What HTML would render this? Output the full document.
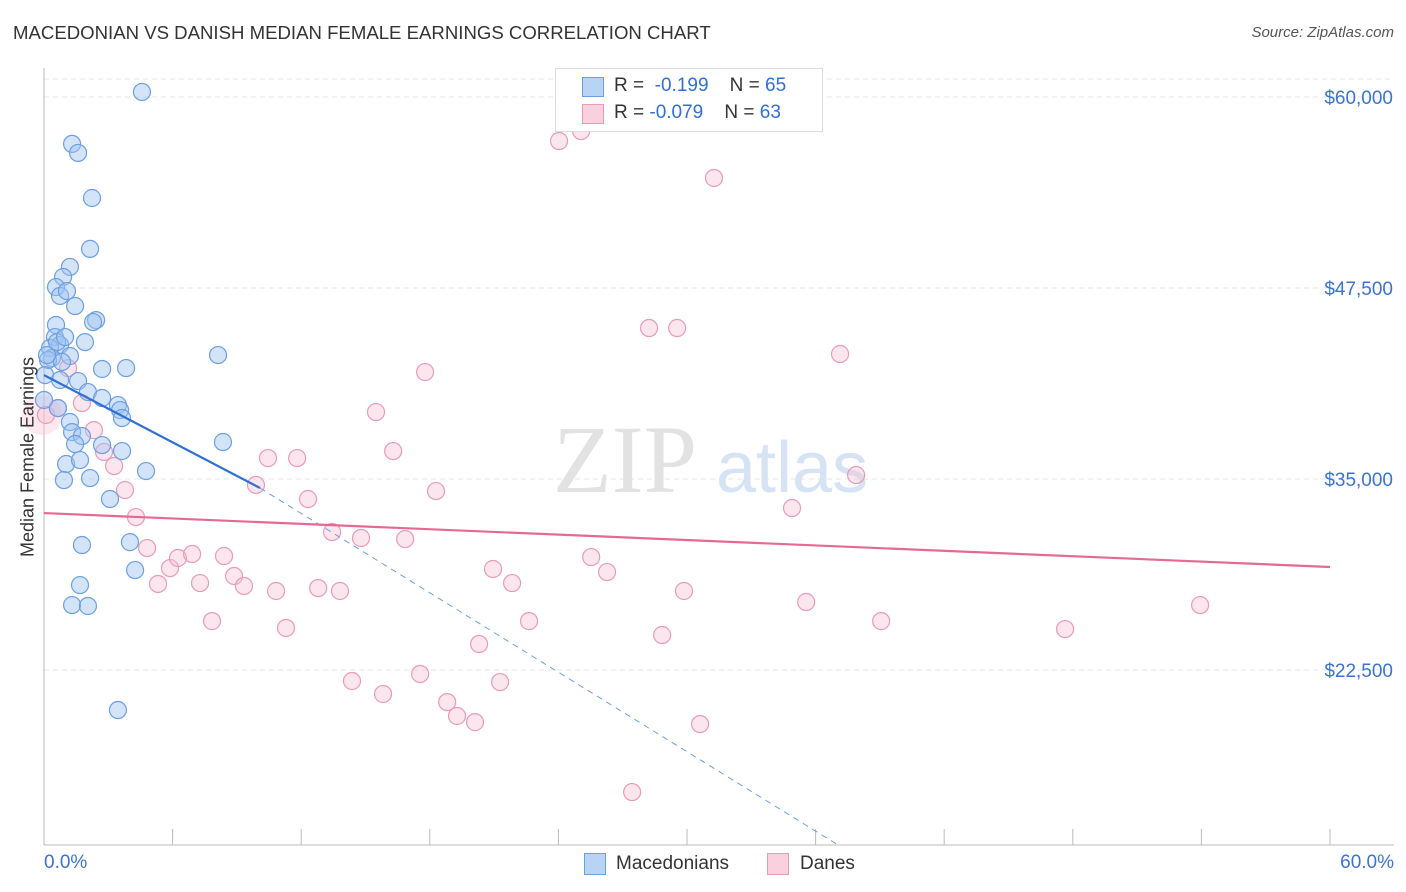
<!DOCTYPE html>
<html><head><meta charset="utf-8"><style>
body{margin:0;background:#fff;font-family:"Liberation Sans",sans-serif;}
#wrap{position:relative;width:1406px;height:892px;overflow:hidden;}
.t{position:absolute;white-space:nowrap;}
</style></head><body><div id="wrap">
<div class="t" style="left:13px;top:22px;font-size:18.6px;color:#333;">MACEDONIAN VS DANISH MEDIAN FEMALE EARNINGS CORRELATION CHART</div>
<div class="t" style="right:12px;top:24px;font-size:15px;color:#555;font-style:italic;">Source: ZipAtlas.com</div>
<svg id="svg" width="1406" height="892" style="position:absolute;left:0;top:0"></svg>
</div>
<script>
const yTicks=[60000,47500,35000,22500];
const yTickLabels=["$60,000","$47,500","$35,000","$22,500"];
const blueX=[4.57,1.31,1.59,2.24,2.15,1.21,0.89,0.56,0.75,1.07,1.45,0.56,0.51,2.43,2.29,1.91,0.75,0.28,1.21,0.37,0.19,0.84,2.71,3.83,8.12,0.05,1.59,2.05,2.71,3.45,0.65,1.21,3.55,3.64,1.31,1.77,1.45,2.71,3.64,8.35,1.03,1.68,4.76,0.93,2.15,3.08,4.01,1.77,4.25,1.68,1.31,2.05,3.45,0.14,0.61,0.98,0.75,0];
const blueY=[60330,56930,56340,53390,50060,48880,48220,47560,46980,47300,46320,45080,44290,45400,45270,43960,43770,43570,43050,42920,42790,42660,42200,42260,43110,41800,41410,40690,40300,39840,39640,38730,39510,38990,38070,37810,37290,37220,36830,37420,35980,36240,35520,34930,35060,33690,30870,30680,29040,28060,26750,26690,19880,43110,43960,44290,41480,40170];
const pinkX=[0.09,0.65,1.12,1.77,2.33,2.80,3.27,3.78,4.29,4.81,5.32,5.88,6.25,6.91,7.28,7.84,8.40,8.87,9.33,9.89,10.45,10.83,11.29,11.81,12.32,12.79,13.44,13.81,14.37,14.79,15.49,15.82,16.29,16.85,17.55,17.78,18.29,18.81,19.27,20.11,20.30,20.95,21.28,21.84,22.63,24.03,25.06,25.53,26.27,28.23,28.84,29.54,29.86,30.61,31.26,34.90,35.56,37.14,37.89,39.06,47.64,53.94,27.44];
const pinkY=[39190,39640,42260,39970,38200,36770,35850,34280,32510,30480,28130,29170,29830,30090,28190,25700,29960,28650,28000,34610,36370,27670,25250,36370,33690,27860,31530,27670,21780,31140,39380,20930,36830,31070,22240,42000,34210,20400,19490,19090,24200,29110,21710,28190,25700,57120,57770,29890,28910,44880,24790,44880,27670,18960,54700,33100,26950,43180,35260,25700,25180,26750,14510];
const blueTrend=[41800,-733];
const blueSolidEnd=10.08, blueDashEnd=37.05;
const pinkTrend=[32770,29240];
const X0=44,X1=1330,YT=97,yTop=60000,ppd=191/12500,plotBottom=845;
const sx=v=>X0+v*(X1-X0)/60;
const sy=v=>YT+(yTop-v)*ppd;
const svg=document.getElementById('svg');
const NS='http://www.w3.org/2000/svg';
function mk(tag,at){const e=document.createElementNS(NS,tag);for(const k in at)e.setAttribute(k,at[k]);svg.appendChild(e);return e;}
yTicks.forEach((v,i)=>{
 const g=mk('line',{x1:X0,x2:1394,y1:sy(v),y2:sy(v),stroke:'#e4e4e4','stroke-dasharray':'5,4'});
 
 
 const t=mk('text',{x:1393,y:sy(v)+7,'text-anchor':'end','font-size':19,fill:'#3b73d1','font-family':'Liberation Sans, sans-serif'});
 t.textContent=yTickLabels[i];
 
 
});
const topGrid=mk('line',{x1:X0,x2:1394,y1:79,y2:79,stroke:'#e4e4e4','stroke-dasharray':'5,4'});


const ya=mk('line',{x1:X0,x2:X0,y1:68,y2:plotBottom,stroke:'#bbb'});


const xa=mk('line',{x1:X0,x2:1394,y1:plotBottom,y2:plotBottom,stroke:'#bbb'});


for(let i=0;i<=10;i++){const tk=mk('line',{x1:sx(i*6),x2:sx(i*6),y1:829,y2:plotBottom,stroke:'#bbb'});
 
 }
const wm=mk('text',{x:553,y:492,'font-size':96,fill:'#e2e2e2','font-family':'Liberation Serif, serif'});wm.textContent='ZIP';


const wm2=mk('text',{x:716,y:492,'font-size':72,fill:'#d6e3f5','font-family':'Liberation Sans, sans-serif'});wm2.textContent='atlas';


function pts(xs,ys,fill,stroke,name){xs.forEach((x,i)=>{const c=mk('circle',{cx:sx(x),cy:sy(ys[i]),r:8.5,fill:fill,stroke:stroke,'stroke-width':1.2});
 
 });}
const big=mk('circle',{cx:sx(pinkX[0])-4,cy:sy(pinkY[0]),r:20,fill:'rgba(248,190,210,0.35)',stroke:'none'});


pts(pinkX,pinkY,'rgba(248,192,212,0.4)','#e99ab8','danes-point');
pts(blueX,blueY,'rgba(160,196,240,0.45)','#6b9fe2','macedonians-point');
const yMinV=yTop-(plotBottom-YT)/ppd;
const bs=mk('line',{x1:sx(0),y1:sy(blueTrend[0]),x2:sx(blueSolidEnd),y2:sy(blueTrend[0]+blueTrend[1]*blueSolidEnd),stroke:'#2f6fd6','stroke-width':2.2});


const bd=mk('line',{x1:sx(blueSolidEnd),y1:sy(blueTrend[0]+blueTrend[1]*blueSolidEnd),x2:sx(blueDashEnd),y2:sy(yMinV),stroke:'#6b9fe2','stroke-width':1,'stroke-dasharray':'6,5'});


const pl=mk('line',{x1:sx(0),y1:sy(pinkTrend[0]),x2:sx(60),y2:sy(pinkTrend[1]),stroke:'#e46a95','stroke-width':2.2});


</script>
<div class="t" style="left:28px;top:457px;font-size:18px;color:#333;transform:translate(-50%,-50%) rotate(-90deg);">Median Female Earnings</div>
<div class="t" style="left:44px;top:852px;font-size:19px;color:#3b73d1;">0.0%</div>
<div class="t" style="right:12px;top:852px;font-size:19px;color:#3b73d1;">60.0%</div>
<div style="position:absolute;left:555px;top:68px;width:266px;height:62px;border:1px solid #ddd;background:#fff;font-size:19px;">
 <div style="position:absolute;left:26px;top:8px;width:20px;height:18px;background:#b9d3f5;border:1px solid #6b9fe2;"></div>
 <div class="t" style="left:58px;top:6px;color:#333;">R = &nbsp;<span style="color:#2f6fd6">-0.199</span>&nbsp;&nbsp;&nbsp; N = <span style="color:#2f6fd6">65</span></div>
 <div style="position:absolute;left:26px;top:35px;width:20px;height:18px;background:#fbd0de;border:1px solid #e99ab8;"></div>
 <div class="t" style="left:58px;top:33px;color:#333;">R = <span style="color:#2f6fd6">-0.079</span>&nbsp;&nbsp;&nbsp; N = <span style="color:#2f6fd6">63</span></div>
</div>
<div style="position:absolute;left:584px;top:853px;">
 <div style="position:absolute;left:0;top:0;width:20px;height:20px;background:#b9d3f5;border:1px solid #6b9fe2;"></div>
 <div class="t" style="left:32px;top:0;font-size:19px;color:#333;">Macedonians</div></div>
<div style="position:absolute;left:767px;top:853px;">
 <div style="position:absolute;left:0;top:0;width:20px;height:20px;background:#fbd0de;border:1px solid #e99ab8;"></div>
 <div class="t" style="left:33px;top:0;font-size:19px;color:#333;">Danes</div></div>
</body></html>
